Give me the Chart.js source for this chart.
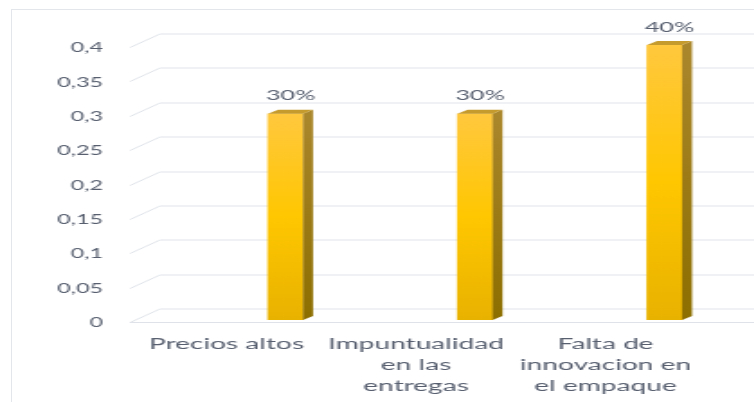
<!DOCTYPE html>
<html>
<head>
<meta charset="utf-8">
<script src="https://cdn.jsdelivr.net/npm/chart.js"></script>
<style>
  html, body { margin: 0; padding: 0; background: #fff; overflow: hidden; }
  #frame { position: absolute; left: 11px; top: 9px; width: 800px; height: 500px;
           border-left: 1px solid #e3e6eb; border-top: 1px solid #e3e6eb; }
  #c { position: absolute; left: 0; top: 0; transform: scaleX(1.8); transform-origin: 0 0; }
</style>
</head>
<body>
<div id="frame"></div>
<canvas id="c" width="419" height="402"></canvas>
<script>
const categories = ['Precios altos', 'Impuntualidad en las entregas', 'Falta de innovacion en el empaque'];
const categoryLines = [['Precios altos'], ['Impuntualidad', 'en las', 'entregas'], ['Falta de', 'innovacion en', 'el empaque']];
const values = [0.3, 0.3, 0.4];
const valueLabels = ['30%', '30%', '40%'];
const yTicks = [0, 0.05, 0.1, 0.15, 0.2, 0.25, 0.3, 0.35, 0.4];
const yTickLabels = ['0', '0,05', '0,1', '0,15', '0,2', '0,25', '0,3', '0,35', '0,4'];

// the source picture is stretched sideways, so draw narrow and scale the canvas
const S = 1.8;
const W = 419;
const plotLeft = 130, labelX0 = 226.5, labelStep = 189.5, barOffset = 59; // in screen px
const xMin = -(labelX0 - plotLeft) / labelStep;
const xMax = xMin + (W * S - plotLeft) / labelStep;
const barShift = barOffset / labelStep;
const frontShift = 2;                  // floor/grid sit a bit lower than the bar bases
const depthX = 30 / S, depthY = -13.5;
const sideX = 10 / S, sideY = -4;
const textColor = '#586070';
const gridColor = '#dfe3e9';

const grid3d = {
    id: 'grid3d',
    beforeDatasetsDraw(chart) {
        const { ctx, chartArea, scales: { y } } = chart;
        const left = chartArea.left;
        ctx.save();
        ctx.strokeStyle = gridColor;
        ctx.lineWidth = 1;
        yTicks.forEach(v => {
            const py = Math.round(y.getPixelForValue(v)) + frontShift + 0.5;
            ctx.beginPath();
            ctx.moveTo(left, py);
            ctx.lineTo(left + depthX, py + depthY);
            ctx.lineTo(chart.width, py + depthY);
            if (v === 0) {
                ctx.moveTo(left, py);
                ctx.lineTo(chart.width, py);
            }
            ctx.stroke();
        });
        ctx.restore();
    }
};

const bar3d = {
    id: 'bar3d',
    afterDatasetsDraw(chart) {
        const ctx = chart.ctx;
        chart.getDatasetMeta(0).data.forEach((bar, i) => {
            const half = bar.width / 2;
            const l = bar.x - half, r = bar.x + half, t = bar.y, b = bar.base;
            ctx.save();
            const gs = ctx.createLinearGradient(0, t, 0, b);
            gs.addColorStop(0, '#aa872c');
            gs.addColorStop(1, '#8c6e00');
            ctx.fillStyle = gs;
            ctx.beginPath();
            ctx.moveTo(r, t);
            ctx.lineTo(r + sideX, t + sideY);
            ctx.lineTo(r + sideX, b + sideY);
            ctx.lineTo(r, b);
            ctx.closePath();
            ctx.fill();

            ctx.fillStyle = '#c69b2e';
            ctx.beginPath();
            ctx.moveTo(l, t);
            ctx.lineTo(l + sideX, t + sideY);
            ctx.lineTo(r + sideX, t + sideY);
            ctx.lineTo(r, t);
            ctx.closePath();
            ctx.fill();

            ctx.fillStyle = textColor;
            ctx.font = '14px Lato';
            ctx.textAlign = 'center';
            ctx.textBaseline = 'middle';
            ctx.fillText(valueLabels[i], bar.x + sideX / 2, t - 18);
            ctx.restore();
        });
    }
};

function barFill(c) {
    const area = c.chart.chartArea;
    if (!area || c.type !== 'data') return '#ffc600';
    const y = c.chart.scales.y;
    const top = y.getPixelForValue(c.raw.y), bot = y.getPixelForValue(0);
    const g = c.chart.ctx.createLinearGradient(0, top, 0, bot);
    g.addColorStop(0, '#ffc83e');
    g.addColorStop(0.5, '#ffc700');
    g.addColorStop(1, '#e8b200');
    return g;
}

new Chart(document.getElementById('c'), {
    type: 'bar',
    data: {
        datasets: [{
            data: values.map((v, i) => ({ x: i + barShift, y: v })),
            backgroundColor: barFill,
            borderWidth: 0,
            barThickness: 35 / S
        }]
    },
    options: {
        responsive: false,
        animation: false,
        layout: { padding: { top: 45, left: 0, right: 0, bottom: 0 } },
        plugins: { legend: { display: false }, tooltip: { enabled: false } },
        scales: {
            x: {
                type: 'linear',
                offset: false,
                min: xMin,
                max: xMax,
                grid: { display: false, drawTicks: false },
                border: { display: false },
                afterBuildTicks: s => { s.ticks = categories.map((c, i) => ({ value: i })); },
                afterFit: s => {
                    s.height = 402 - 320;
                    s.paddingLeft = 0;
                    s.paddingRight = 0;
                },
                ticks: {
                    autoSkip: false, maxRotation: 0, minRotation: 0, padding: 14,
                    color: textColor, font: { family: 'Lato', size: 15.6, lineHeight: 1.33 },
                    callback: (v, i) => categoryLines[i]
                }
            },
            y: {
                min: 0,
                max: 0.4,
                grid: { display: false, drawTicks: false },
                border: { display: false },
                afterBuildTicks: s => { s.ticks = yTicks.map(v => ({ value: v })); },
                afterFit: s => { s.width = plotLeft / S; },
                ticks: {
                    padding: 15, labelOffset: 3, color: textColor, font: { family: 'Lato', size: 13 },
                    callback: (v, i) => yTickLabels[i]
                }
            }
        }
    },
    plugins: [grid3d, bar3d]
});
</script>
</body>
</html>
